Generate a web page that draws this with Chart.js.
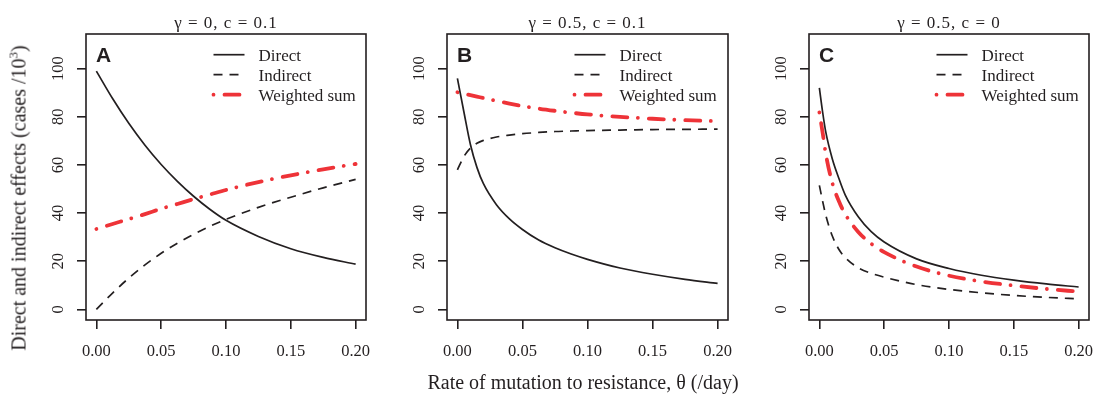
<!DOCTYPE html>
<html>
<head>
<meta charset="utf-8">
<script src="https://cdn.jsdelivr.net/npm/chart.js@4.4.1/dist/chart.umd.min.js"></script>
<style>
  body { margin: 0; background: #fff; }
  #wrap { position: relative; width: 1093px; height: 396px; overflow: hidden; background: #fff; }
  canvas { position: absolute; top: 0; }
  .ttl { position: absolute; font: 20px "Liberation Serif", "DejaVu Serif", serif; line-height: 20px; color: #231f20; white-space: nowrap; }
  #ytitle { left: 20px; top: 198px; transform: translate(-50%, -50%) rotate(-90deg); }
  #xtitle { left: 583px; top: 372px; transform: translateX(-50%); }
  .sup { font-size: 13px; position: relative; top: -8px; }
</style>
</head>
<body>
<div id="wrap">
  <canvas id="pA" width="370" height="396" style="left:0"></canvas>
  <canvas id="pB" width="372" height="396" style="left:370px"></canvas>
  <canvas id="pC" width="363" height="396" style="left:730px"></canvas>
  <div class="ttl" id="ytitle">Direct and indirect effects (cases /10<span class="sup">3</span>)</div>
  <div class="ttl" id="xtitle">Rate of mutation to resistance, θ (/day)</div>
</div>
<script>
// values (cases per 1000)
const xTicks = [0, 0.05, 0.1, 0.15, 0.2];
const yTicks = [0, 20, 40, 60, 80, 100];
const seriesNames = ["Direct", "Indirect", "Weighted sum"];

const thetaA = [0, 0.0125, 0.025, 0.0375, 0.05, 0.0625, 0.075, 0.0875, 0.1, 0.125, 0.15, 0.175, 0.2];
const directA = [99, 87.6, 77.3, 68.2, 60.2, 53.2, 47, 41.6, 37, 30.3, 25.2, 21.6, 18.8];
const indirectA = [0, 6.8, 13, 18.5, 23.3, 27.5, 31.2, 34.5, 37.4, 42.4, 46.6, 50.5, 54];
const weightedA = [33.4, 35.5, 37.5, 39.6, 41.8, 43.8, 45.8, 47.7, 49.6, 52.9, 55.7, 58.2, 60.4];

const thetaB = [0, 0.005, 0.01, 0.015, 0.02, 0.03, 0.04, 0.05, 0.0625, 0.075, 0.0875, 0.1, 0.125, 0.15, 0.175, 0.2];
const directB = [96, 82, 68.5, 59, 52.2, 43.5, 37.6, 33.2, 28.8, 25.6, 23, 20.8, 17.2, 14.6, 12.5, 10.8];
const indirectB = [58, 63.5, 67, 69, 70.2, 71.6, 72.4, 73, 73.5, 73.9, 74.1, 74.3, 74.5, 74.7, 74.8, 74.9];
const weightedB = [90.2, 89.6, 89, 88.4, 87.8, 86.6, 85.5, 84.5, 83.4, 82.5, 81.7, 81, 80, 79.2, 78.6, 78.2];

const thetaC = [0, 0.0025, 0.005, 0.01, 0.015, 0.02, 0.03, 0.04, 0.05, 0.075, 0.1, 0.125, 0.15, 0.175, 0.2];
const directC = [92, 82, 73.5, 62.5, 54.5, 47.5, 38.5, 32.3, 28, 21, 17, 14.2, 12.2, 10.6, 9.3];
const indirectC = [51.5, 45, 39, 30.5, 25, 21.5, 17.3, 15, 13.4, 10.3, 8.3, 6.9, 5.8, 5, 4.4];
const weightedC = [81.8, 73.5, 64.5, 52.5, 45, 39.5, 32.2, 27.3, 23.8, 17.8, 14, 11.6, 9.9, 8.5, 7.4];

const ink = "#231f20";
const red = "#ee3338";
const serif = '"Liberation Serif", "DejaVu Serif", serif';

// box, rotated y labels, title, panel letter and legend
const panelDeco = {
  id: "panelDeco",
  afterDraw(chart, args, opts) {
    const { ctx, chartArea: a } = chart;
    const y = chart.scales.y;
    ctx.save();
    ctx.strokeStyle = ink;
    ctx.lineWidth = 1.6;
    ctx.strokeRect(a.left, a.top, a.right - a.left, a.bottom - a.top);

    ctx.fillStyle = ink;
    ctx.font = "16.5px " + serif;
    ctx.textAlign = "center";
    ctx.textBaseline = "alphabetic";
    y.ticks.forEach(t => {
      ctx.save();
      ctx.translate(a.left - 23.5, y.getPixelForValue(t.value));
      ctx.rotate(-Math.PI / 2);
      ctx.fillText(String(t.value), 0, 0);
      ctx.restore();
    });

    ctx.font = "17px " + serif;
    ctx.letterSpacing = "1px";
    ctx.fillText(opts.title, (a.left + a.right) / 2, 27.5);
    ctx.letterSpacing = "0px";

    ctx.font = 'bold 21px "Liberation Sans", Arial, sans-serif';
    ctx.textAlign = "left";
    ctx.fillText(opts.letter, a.left + 10, a.top + 28);

    ctx.font = "17px " + serif;
    chart.data.datasets.forEach((ds, i) => {
      const ly = a.top + 20.7 + i * 20;
      ctx.save();
      ctx.strokeStyle = ds.borderColor;
      ctx.lineWidth = ds.borderWidth;
      ctx.lineCap = ds.borderCapStyle || "butt";
      ctx.setLineDash(ds.borderDash || []);
      ctx.beginPath();
      ctx.moveTo(a.left + 127.5, ly);
      ctx.lineTo(a.left + 158.5, ly);
      ctx.stroke();
      ctx.restore();
      ctx.fillText(ds.label, a.left + 172.5, ly + 6);
    });
    ctx.restore();
  }
};

function pts(xs, ys) {
  return xs.map((x, i) => ({ x: x, y: ys[i] }));
}

function noPad(s) {
  s.paddingLeft = 0;
  s.paddingRight = 0;
  s.paddingTop = 0;
  s.paddingBottom = 0;
}

function makePanel(id, xs, direct, indirect, weighted, title, letter, yWidth, padRight) {
  new Chart(document.getElementById(id), {
    type: "line",
    data: {
      datasets: [
        {
          label: seriesNames[0],
          data: pts(xs, direct),
          borderColor: ink,
          borderWidth: 1.7,
        },
        {
          label: seriesNames[1],
          data: pts(xs, indirect),
          borderColor: ink,
          borderWidth: 1.7,
          borderDash: [9, 7],
        },
        {
          label: seriesNames[2],
          data: pts(xs, weighted),
          borderColor: red,
          borderWidth: 3.8,
          borderCapStyle: "round",
          borderDash: [0.01, 11, 15, 10.5],
        },
      ],
    },
    options: {
      responsive: false,
      animation: false,
      devicePixelRatio: 1,
      layout: { padding: { top: 34, right: padRight, bottom: 0, left: 0 } },
      elements: {
        point: { radius: 0, hoverRadius: 0 },
        line: { cubicInterpolationMode: "monotone", fill: false },
      },
      plugins: {
        legend: { display: false },
        tooltip: { enabled: false },
        panelDeco: { title: title, letter: letter },
      },
      scales: {
        x: {
          type: "linear",
          min: -0.008,
          max: 0.208,
          afterBuildTicks: s => { s.ticks = xTicks.map(v => ({ value: v })); },
          afterFit: s => { s.height = 76; noPad(s); },
          ticks: {
            callback: v => v.toFixed(2),
            font: { family: serif, size: 16.5 },
            color: ink,
            padding: 13,
            maxRotation: 0,
            autoSkip: false,
          },
          grid: { drawOnChartArea: false, tickLength: 9, color: ink, lineWidth: 1.6 },
          border: { display: false },
        },
        y: {
          type: "linear",
          min: -4.4,
          max: 114.4,
          afterBuildTicks: s => { s.ticks = yTicks.map(v => ({ value: v })); },
          afterFit: s => { s.width = yWidth; noPad(s); },
          ticks: { display: false },
          grid: { drawOnChartArea: false, tickLength: 9, color: ink, lineWidth: 1.6 },
          border: { display: false },
        },
      },
    },
    plugins: [panelDeco],
  });
}

makePanel("pA", thetaA, directA, indirectA, weightedA, "γ = 0, c = 0.1", "A", 86, 4);
makePanel("pB", thetaB, directB, indirectB, weightedB, "γ = 0.5, c = 0.1", "B", 77, 14);
makePanel("pC", thetaC, directC, indirectC, weightedC, "γ = 0.5, c = 0", "C", 79, 4);
</script>
</body>
</html>
